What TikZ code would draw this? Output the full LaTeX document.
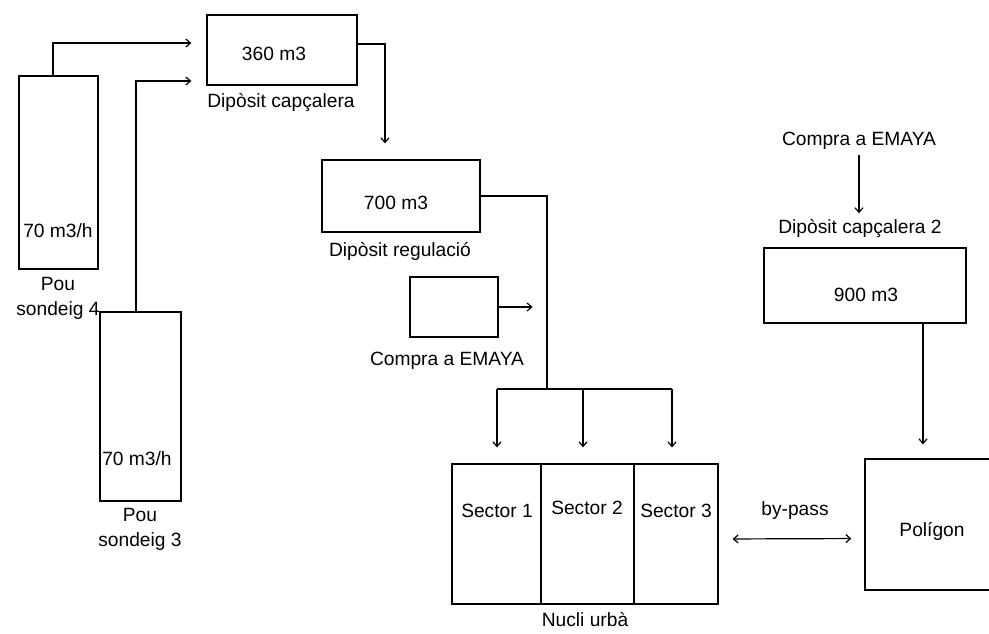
\documentclass[tikz,border=0pt]{standalone}
\usepackage{fontspec}
\setmainfont{Liberation Sans}
\usetikzlibrary{arrows.meta}
\def\u{0.75pt}
\tikzset{
  box/.style={draw, line width=0.9pt, inner sep=0pt, rectangle},
  txt/.style={inner sep=0pt, align=center, font=\fontsize{14.4}{18.6}\selectfont},
  wire/.style={line width=0.9pt},
  arr/.style={line width=0.9pt, -{Straight Barb[length=3.5pt,width=6pt]}},
  arrs/.style={line width=0.9pt, {Straight Barb[length=3.5pt,width=6pt]}-{Straight Barb[length=3.5pt,width=6pt]}},
}
\begin{document}
\begin{tikzpicture}[x=\u, y=-\u]
\useasboundingbox (0,0) rectangle (989,633);
% boxes
\node[box, minimum width=79*\u, minimum height=193*\u] (pou4) at (58.5,172.5) {};
\node[box, minimum width=81*\u, minimum height=189*\u] (pou3) at (140.5,406.5) {};
\node[box, minimum width=150*\u, minimum height=70*\u] (cap) at (282,50) {};
\node[box, minimum width=158*\u, minimum height=72*\u] (reg) at (401,196) {};
\node[box, minimum width=88*\u, minimum height=60*\u] (em) at (454,307) {};
\node[box, minimum width=89*\u, minimum height=140*\u] (s1) at (496.5,534) {};
\node[box, minimum width=93*\u, minimum height=140*\u] (s2) at (587.5,534) {};
\node[box, minimum width=84*\u, minimum height=140*\u] (s3) at (676,534) {};
\node[box, minimum width=202*\u, minimum height=75*\u] (b900) at (865,285.5) {};
\node[box, minimum width=135*\u, minimum height=131*\u] (pol) at (932.5,524.5) {};
% texts
\node[txt] (t4) at (58,231) {70 m3/h};
\node[txt] (t3) at (137,459) {70 m3/h};
\node[txt] (l4) at (58,298) {Pou\\sondeig 4};
\node[txt] (l3) at (140,529) {Pou\\sondeig 3};
\node[txt] (t360) at (274,54) {360 m3};
\node[txt] (lcap) at (281,102) {Dipòsit capçalera};
\node[txt] (t700) at (396,203) {700 m3};
\node[txt] (lreg) at (400,251) {Dipòsit regulació};
\node[txt] (lem) at (447,361) {Compra a EMAYA};
\node[txt] (ts1) at (497,511) {Sector 1};
\node[txt] (ts2) at (587,508) {Sector 2};
\node[txt] (ts3) at (676,511) {Sector 3};
\node[txt] (lnu) at (585,620) {Nucli urbà};
\node[txt] (lbp) at (795,511) {by-pass};
\node[txt] (lpol) at (932,531) {Polígon};
\node[txt] (t900) at (866,295) {900 m3};
\node[txt, inner sep=4pt] (lce) at (859,141) {Compra a EMAYA};
\node[txt, inner sep=4pt] (ldc) at (860,228) {Dipòsit capçalera 2};
% junction coordinates
\coordinate (j) at (547,389);
\coordinate (j1) at (497,389);
\coordinate (j2) at (583,389);
\coordinate (j3) at (672,389);
% connectors
\draw[arr] ([xshift=-5.5*\u]pou4.north) |- ([xshift=-15*\u, yshift=7*\u]cap.west);
\draw[arr] ([xshift=-4.5*\u]pou3.north) |- ([xshift=-15*\u, yshift=-31*\u]cap.west);
\draw[arr] ([yshift=6*\u]cap.east) -| ([xshift=-16*\u, yshift=16*\u]reg.north);
\draw[wire] (reg.east) -| (j);
\draw[wire] (j1) -- (j3);
\draw[arr] (j1) -- ([yshift=16*\u]j1 |- s1.north);
\draw[arr] (j2) -- ([yshift=16*\u]j2 |- s2.north);
\draw[arr] (j3) -- ([yshift=16*\u]j3 |- s3.north);
\draw[arr] (em.east) -- ++(34,0);
\draw[arr] (lce.south) -- (lce.south |- ldc.north);
\draw[arr, shorten >=14*\u] ([xshift=58*\u]b900.south) -- ([xshift=58*\u]b900.south |- pol.north);
\draw[arrs, shorten <=14*\u, shorten >=13*\u] ([yshift=-5*\u]s3.east) -- ([yshift=-4.5*\u]s3.east -| pol.west);
\end{tikzpicture}
\end{document}
